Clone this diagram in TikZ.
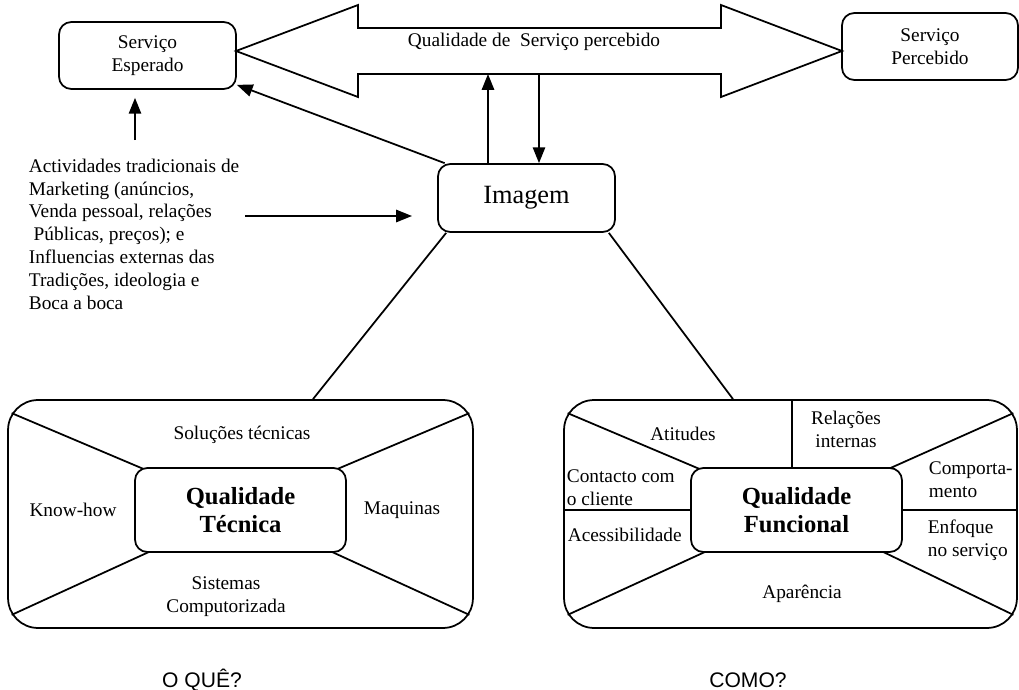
\documentclass[tikz,border=0pt]{standalone}
\usepackage{fontspec}
\setmainfont{Liberation Serif}
\newfontfamily\sansq{Liberation Sans}
\usetikzlibrary{arrows.meta}

\tikzset{
  box/.style={draw,rectangle,rounded corners=7pt,align=center,fill=white},
  bigbox/.style={draw,rectangle,rounded corners=0.6cm},
  tip/.style={-{Triangle[length=9pt,width=7pt]}},
  lbl/.style={align=left,inner sep=0pt},
  qual/.style={font=\fontsize{14}{16}\selectfont\bfseries},
}

\begin{document}
\begin{tikzpicture}[x=0.02cm,y=-0.02cm,line width=1pt,font=\fontsize{11}{13}\selectfont]
\useasboundingbox (0,0) rectangle (1019,690);

\node [box,minimum width=3.54cm,minimum height=1.34cm] (se) at(147.5,55.5){Serviço\\Esperado};
\node [box,minimum width=3.52cm,minimum height=1.34cm] (sp) at(930,46.5){Serviço\\Percebido};

% double arrow between the two services
\draw (236,51) -- (358,5) -- (358,28) -- (721,28) -- (721,5) -- (842,51)
  -- (721,97) -- (721,74) -- (358,74) -- (358,97) -- cycle;
\node (qsp) at(534,42){Qualidade de\ \ Serviço percebido};
\coordinate (qsl) at (488,74);
\coordinate (qsr) at (539,74);

\node [box,minimum width=3.54cm,minimum height=1.36cm,font=\fontsize{15}{18}\selectfont] (img) at(526.5,198){Imagem};
\draw [tip] (qsl |- img.north) -- (qsl);
\draw [tip] (qsr) -- (qsr |- img.north);
\draw [tip] ([xshift=0.15cm]img.north west) -- ([yshift=0.1cm]se.south east);

\node [lbl,anchor=north west] (act) at(28,158){Actividades tradicionais de\\Marketing (anúncios,\\Venda pessoal, relações\\\hspace{0.25em}Públicas, preços); e\\Influencias externas das\\Tradições, ideologia e\\Boca a boca};
\coordinate (actn) at (135,140);
\coordinate (acte) at (245,216);
\coordinate (imgw) at (412,216);
\draw [tip] (actn) -- ([yshift=-0.16cm]se.south -| actn);
\draw [tip] (acte) -- (imgw);

% Qualidade Tecnica
\node [bigbox,minimum width=9.3cm,minimum height=4.56cm] (qtb) at(240.5,514){};
\draw ([shift={(0.09cm,-0.28cm)}]qtb.north west) -- (240.5,510);
\draw ([shift={(-0.09cm,-0.28cm)}]qtb.north east) -- (240.5,510);
\draw ([shift={(0.09cm,0.28cm)}]qtb.south west) -- (240.5,510);
\draw ([shift={(-0.09cm,0.28cm)}]qtb.south east) -- (240.5,510);
\node [box,qual,minimum width=4.22cm,minimum height=1.68cm] (qt) at(240.5,510){Qualidade\\Técnica};
\node (sol) at(242,435){Soluções técnicas};
\node (kh) at(73,510){Know-how};
\node (maq) at(402,510){Maquinas};
\node [align=center] (sis) at(226,597){Sistemas\\Computorizada};
\draw ([xshift=0.18cm]img.south west) -- ([xshift=1.45cm]qtb.north);

% Qualidade Funcional
\node [bigbox,minimum width=9.06cm,minimum height=4.56cm] (qfb) at(790.5,514){};
\draw ([shift={(0.09cm,-0.28cm)}]qfb.north west) -- (796.5,510);
\draw ([shift={(-0.09cm,-0.28cm)}]qfb.north east) -- (796.5,510);
\draw ([shift={(0.09cm,0.28cm)}]qfb.south west) -- (796.5,510);
\draw ([shift={(-0.09cm,0.28cm)}]qfb.south east) -- (796.5,510);
\node [box,qual,minimum width=4.22cm,minimum height=1.68cm] (qf) at(796.5,510){Qualidade\\Funcional};
\draw ([xshift=-0.09cm]qf.north) -- ([xshift=-0.09cm]qfb.north -| qf.north);
\draw (qf.west) -- (qf.west -| qfb.west);
\draw (qf.east) -- (qf.east -| qfb.east);
\node (ati) at(683,434){Atitudes};
\node [align=center] (rel) at(846,429){Relações\\internas};
\node [lbl,anchor=west] (con) at(566,488){Contacto com\\o cliente};
\node [lbl,anchor=west] (com) at(928,480){Comporta-\\mento};
\node [lbl,anchor=west] (ace) at(567,535){Acessibilidade};
\node [lbl,anchor=west] (enf) at(927,540){Enfoque\\no serviço};
\node (apa) at(802,594){Aparência};
\draw ([xshift=-0.14cm]img.south east) -- ([xshift=-1.15cm]qfb.north);

\node [font=\sansq\fontsize{12}{14}\selectfont] (que) at(202,680){O QUÊ?};
\node [font=\sansq\fontsize{12}{14}\selectfont] (como) at(748,680){COMO?};
\end{tikzpicture}
\end{document}
